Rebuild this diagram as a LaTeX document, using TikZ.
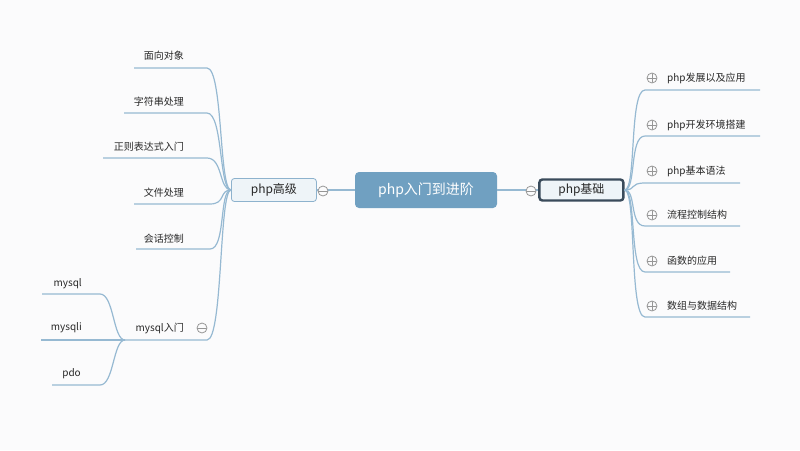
\documentclass[tikz,border=0pt]{standalone}
\usepackage{fontspec}
\setmainfont{Noto Sans CJK SC}
\usepackage{tikz}
\usetikzlibrary{positioning}
\usepackage{xcolor}
\definecolor{bgcol}{RGB}{251,251,252}
\definecolor{linkblue}{RGB}{150,185,210}
\definecolor{rootblue}{RGB}{112,160,193}
\definecolor{topicfill}{RGB}{238,244,248}
\definecolor{topicdark}{RGB}{58,75,91}
\definecolor{topiclight}{RGB}{141,178,205}
\definecolor{markgray}{RGB}{150,150,150}
\definecolor{leaftext}{RGB}{40,40,40}
\tikzset{
  branch/.style={draw=linkblue, line width=1.2pt},
  leaf/.style={inner sep=0pt, text=leaftext, font=\fontsize{10}{12}\selectfont},
  rootbox/.style={fill=rootblue, rounded corners=4pt, minimum width=142pt, minimum height=36pt, text=white, font=\fontsize{14}{16}\selectfont},
  topicbox/.style={fill=topicfill, rounded corners=3pt, minimum width=85pt, minimum height=23pt, text=leaftext, font=\fontsize{12}{14}\selectfont},
  plusmark/.style={circle, draw=markgray, fill=bgcol, line width=0.8pt, minimum size=10pt, inner sep=0pt,
    path picture={\draw[markgray, line width=0.8pt] (path picture bounding box.north) -- (path picture bounding box.south)
      (path picture bounding box.west) -- (path picture bounding box.east);}},
  minusmark/.style={circle, draw=markgray, fill=bgcol, line width=0.8pt, minimum size=10pt, inner sep=0pt,
    path picture={\draw[markgray, line width=0.8pt] (path picture bounding box.west) -- (path picture bounding box.east);}}
}
\begin{document}
\begin{tikzpicture}[x=1pt, y=-1pt]
\fill[bgcol] (0,0) rectangle (800,450);
\useasboundingbox (0,0) rectangle (800,450);
\node[rootbox] (root) at (426,190) {php入门到进阶};
\node[topicbox, draw=topicdark, line width=2.4pt, minimum width=84pt, minimum height=21pt, right=41pt of root] (jichu) {php基础};
\node[topicbox, draw=topiclight, line width=0.8pt, left=38pt of root] (gaoji) {php高级};
\draw[branch] (root.east) -- (jichu.west);
\draw[branch] (root.west) -- (gaoji.east);
\node[minusmark] (mj) at (531,191) {};
\node[minusmark] (mg) at (323,191) {};
% php基础
\node[leaf, anchor=west] (r1) at (667,78) {php发展以及应用};
\node[leaf, anchor=west] (r2) at (667,125) {php开发环境搭建};
\node[leaf, anchor=west] (r3) at (667,171) {php基本语法};
\node[leaf, anchor=west] (r4) at (667,215) {流程控制结构};
\node[leaf, anchor=west] (r5) at (667,261) {函数的应用};
\node[leaf, anchor=west] (r6) at (667,306) {数组与数据结构};
\coordinate (r1a) at (645,90); \coordinate (r1b) at (760,90);
\coordinate (r2a) at (645,136); \coordinate (r2b) at (760,136);
\coordinate (r3a) at (645,183); \coordinate (r3b) at (740,183);
\coordinate (r4a) at (645,226); \coordinate (r4b) at (740,226);
\coordinate (r5a) at (645,272); \coordinate (r5b) at (730,272);
\coordinate (r6a) at (645,317); \coordinate (r6b) at (750,317);
\draw[branch] (jichu.east) .. controls +(12,0) and +(-16,0) .. (r1a) -- (r1b);
\draw[branch] (jichu.east) .. controls +(12,0) and +(-16,0) .. (r2a) -- (r2b);
\draw[branch] (jichu.east) .. controls +(12,0) and +(-16,0) .. (r3a) -- (r3b);
\draw[branch] (jichu.east) .. controls +(12,0) and +(-16,0) .. (r4a) -- (r4b);
\draw[branch] (jichu.east) .. controls +(12,0) and +(-16,0) .. (r5a) -- (r5b);
\draw[branch] (jichu.east) .. controls +(12,0) and +(-16,0) .. (r6a) -- (r6b);
\node[plusmark] (p1) at (652,78) {};
\node[plusmark] (p2) at (652,125) {};
\node[plusmark] (p3) at (652,171) {};
\node[plusmark] (p4) at (652,215) {};
\node[plusmark] (p5) at (652,261) {};
\node[plusmark] (p6) at (652,306) {};
% php高级
\node[leaf, anchor=east] (l1) at (184,56) {面向对象};
\node[leaf, anchor=east] (l2) at (184,102) {字符串处理};
\node[leaf, anchor=east] (l3) at (184,147) {正则表达式入门};
\node[leaf, anchor=east] (l4) at (184,193) {文件处理};
\node[leaf, anchor=east] (l5) at (184,239) {会话控制};
\node[leaf, anchor=east] (l6) at (184,328) {mysql入门};
\coordinate (l1a) at (134,68); \coordinate (l1b) at (207,68);
\coordinate (l2a) at (124,113); \coordinate (l2b) at (207,113);
\coordinate (l3a) at (103,158); \coordinate (l3b) at (207,158);
\coordinate (l4a) at (134,204); \coordinate (l4b) at (210,204);
\coordinate (l5a) at (136,249); \coordinate (l5b) at (210,249);
\coordinate (mysqlhub) at (125,340); \coordinate (l6b) at (207,340);
\draw[branch] (gaoji.west) .. controls +(-12,0) and +(16,0) .. (l1b) -- (l1a);
\draw[branch] (gaoji.west) .. controls +(-12,0) and +(16,0) .. (l2b) -- (l2a);
\draw[branch] (gaoji.west) .. controls +(-12,0) and +(16,0) .. (l3b) -- (l3a);
\draw[branch] (gaoji.west) .. controls +(-12,0) and +(16,0) .. (l4b) -- (l4a);
\draw[branch] (gaoji.west) .. controls +(-12,0) and +(16,0) .. (l5b) -- (l5a);
\draw[branch] (gaoji.west) .. controls +(-12,0) and +(16,0) .. (l6b) -- (mysqlhub);
\node[minusmark] (m6) at (202,328) {};
% mysql入门
\node[leaf, anchor=east] (s1) at (82,284) {mysql};
\node[leaf, anchor=east] (s2) at (82,328) {mysqli};
\node[leaf, anchor=east] (s3) at (81,374) {pdo};
\coordinate (s1a) at (42,294); \coordinate (s1b) at (100,294);
\coordinate (s2a) at (41,340);
\coordinate (s3a) at (52,385); \coordinate (s3b) at (100,385);
\draw[branch] (mysqlhub) .. controls +(-12,0) and +(14,0) .. (s1b) -- (s1a);
\draw[branch] (mysqlhub) -- (s2a);
\draw[branch] (mysqlhub) .. controls +(-12,0) and +(14,0) .. (s3b) -- (s3a);
\end{tikzpicture}
\end{document}
